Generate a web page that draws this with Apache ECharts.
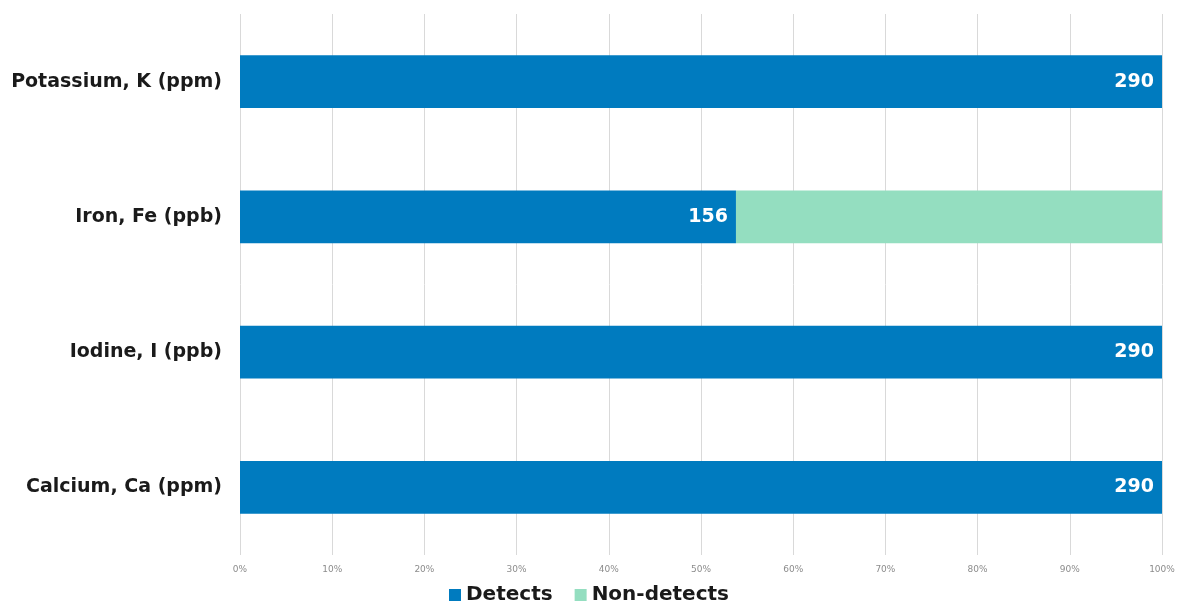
<!DOCTYPE html>
<html>
<head>
<meta charset="utf-8">
<script src="https://cdn.jsdelivr.net/npm/echarts@6/dist/echarts.min.js"></script>
<style>
  html, body { margin: 0; padding: 0; background: #fff; }
  #chart { width: 1178px; height: 611px; }
</style>
</head>
<body>
<div id="chart"></div>
<script>
// Sample counts per analyte, listed bottom to top (each analyte has 290 samples)
const categories = ['Calcium, Ca (ppm)', 'Iodine, I (ppb)', 'Iron, Fe (ppb)', 'Potassium, K (ppm)'];
const detects = [290, 290, 156, 290];
const nonDetects = [0, 0, 134, 0];
const totalSamples = 290;
const tickPercents = ['0%', '10%', '20%', '30%', '40%', '50%', '60%', '70%', '80%', '90%', '100%'];

const chart = echarts.init(document.getElementById('chart'));
const labelFont = '"DejaVu Sans", sans-serif';

chart.setOption({
  animation: false,
  grid: { left: 240, right: 16, top: 14, bottom: 56, containLabel: false },
  xAxis: {
    type: 'value',
    min: 0,
    max: totalSamples,
    interval: totalSamples / 10,
    axisLine: { show: false },
    axisTick: { show: false },
    splitLine: { show: true, lineStyle: { color: '#d9d9d9', width: 1 } },
    axisLabel: {
      color: '#8c8c8c',
      fontSize: 9,
      fontFamily: labelFont,
      margin: 10,
      formatter: (v) => tickPercents[Math.round(v / totalSamples * 10)]
    }
  },
  yAxis: {
    type: 'category',
    data: categories,
    axisLine: { show: false },
    axisTick: { show: false },
    axisLabel: {
      color: '#1a1a1a',
      fontSize: 19,
      fontWeight: 'bold',
      fontFamily: labelFont,
      margin: 18
    }
  },
  legend: {
    bottom: 1,
    left: 'center',
    itemWidth: 12,
    itemHeight: 12,
    itemGap: 22,
    icon: 'rect',
    textStyle: { fontSize: 20, fontWeight: 'bold', color: '#1a1a1a', fontFamily: labelFont },
    data: ['Detects', 'Non-detects']
  },
  series: [
    {
      name: 'Detects',
      type: 'bar',
      stack: 'total',
      barWidth: '39%',
      data: detects,
      itemStyle: { color: '#007bbf' },
      label: {
        show: true,
        position: 'insideRight',
        color: '#ffffff',
        fontSize: 19,
        fontWeight: 'bold',
        fontFamily: labelFont,
        distance: 8
      }
    },
    {
      name: 'Non-detects',
      type: 'bar',
      stack: 'total',
      barWidth: '39%',
      data: nonDetects,
      itemStyle: { color: '#94dec0' },
      label: { show: false }
    }
  ]
});
</script>
</body>
</html>
